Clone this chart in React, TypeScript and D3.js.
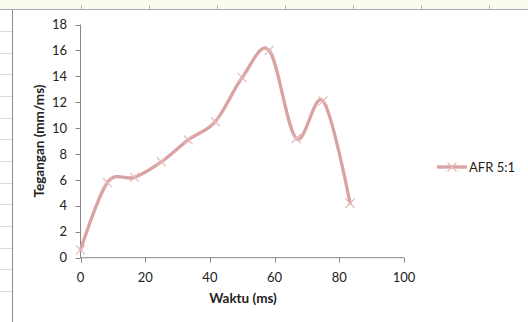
import React from 'react'
import * as d3 from 'd3'

// AFR 5:1 — tegangan vs waktu
const waktu = [0, 8.33, 16.67, 25, 33.33, 41.67, 50, 58.33, 66.67, 75, 83.33]
const tegangan = [0.6, 5.8, 6.2, 7.4, 9.1, 10.5, 13.9, 16.0, 9.2, 12.1, 4.2]
const xTicks = [0, 20, 40, 60, 80, 100]
const yTicks = [0, 2, 4, 6, 8, 10, 12, 14, 16, 18]
const seriesName = 'AFR 5:1'

const W = 528
const H = 322
const font = 'Lato, "Open Sans", sans-serif'
const axisColor = '#868686'
const lineColor = '#d8a3a2'
const markColor = '#e6b9b8'

// excel sheet bits behind the chart
const headerCols = [81, 149, 217, 285, 353, 421, 489]
const sheetRows = d3.range(13).map((i) => 31 + i * 21.65)

const Cross = ({ x, y, r }: { x: number; y: number; r: number }) => (
  <g stroke={markColor} strokeWidth={1.2}>
    <line x1={x - r} y1={y - r} x2={x + r} y2={y + r} />
    <line x1={x - r} y1={y + r} x2={x + r} y2={y - r} />
  </g>
)

const App = () => {
  const x = d3.scaleLinear().domain([0, 100]).range([80.5, 404])
  const y = d3.scaleLinear().domain([0, 18]).range([257.7, 24.5])
  const line = d3
    .line<number>()
    .x((d, i) => x(waktu[i]))
    .y((d) => y(d))
    .curve(d3.curveCatmullRom.alpha(0))

  return (
    <svg width={W} height={H} style={{ position: 'absolute', left: 0, top: 0, background: '#fff' }}>
      {/* sheet background */}
      <rect x={0} y={0} width={W} height={9} fill="#fbfbef" />
      <line x1={0} y1={9.5} x2={W} y2={9.5} stroke="#a9a9a9" />
      {headerCols.map((c) => (
        <line key={c} x1={c + 0.5} y1={5} x2={c + 0.5} y2={9} stroke="#b5b5b5" />
      ))}
      {sheetRows.map((r) => (
        <line key={r} x1={0} y1={Math.round(r) + 0.5} x2={12} y2={Math.round(r) + 0.5} stroke="#dcdcdc" />
      ))}
      <line x1={12.5} y1={10} x2={12.5} y2={H} stroke="#8c8c8c" />

      {/* axes */}
      <g stroke={axisColor} strokeWidth={1}>
        <line x1={x(0)} y1={y(0)} x2={x(0)} y2={y(18)} />
        <line x1={x(0)} y1={y(0)} x2={x(100)} y2={y(0)} />
        {yTicks.map((t) => (
          <line key={t} x1={x(0) - 5} y1={Math.round(y(t)) + 0.5} x2={x(0)} y2={Math.round(y(t)) + 0.5} />
        ))}
        {xTicks.map((t) => (
          <line key={t} x1={Math.round(x(t)) + 0.5} y1={y(0)} x2={Math.round(x(t)) + 0.5} y2={y(0) + 5} />
        ))}
      </g>
      <g fontFamily={font} fontSize={13} fill="#222">
        {yTicks.map((t) => (
          <text key={t} x={67} y={y(t)} dy="0.35em" textAnchor="end">
            {t}
          </text>
        ))}
        {xTicks.map((t) => (
          <text key={t} x={x(t)} y={282} textAnchor="middle">
            {t}
          </text>
        ))}
      </g>
      <text x={243} y={303} textAnchor="middle" fontFamily={font} fontSize={13.5} fontWeight="bold" fill="#222">
        Waktu (ms)
      </text>
      <text
        transform="translate(44,141) rotate(-90)"
        textAnchor="middle"
        fontFamily={font}
        fontSize={13.5}
        fontWeight="bold"
        fill="#222"
      >
        Tegangan (mm/ms)
      </text>

      {/* series */}
      <path d={line(tegangan) ?? ''} fill="none" stroke={lineColor} strokeWidth={3.3} strokeLinecap="round" />
      {tegangan.map((v, i) => (
        <Cross key={i} x={x(waktu[i])} y={y(v)} r={4.5} />
      ))}

      {/* legend */}
      <line x1={437} y1={167} x2={467} y2={167} stroke={lineColor} strokeWidth={3.3} />
      <Cross x={452} y={167} r={4.5} />
      <text x={469} y={167} dy="0.35em" fontFamily={font} fontSize={13} fill="#222">
        {seriesName}
      </text>
    </svg>
  )
}

export default App
